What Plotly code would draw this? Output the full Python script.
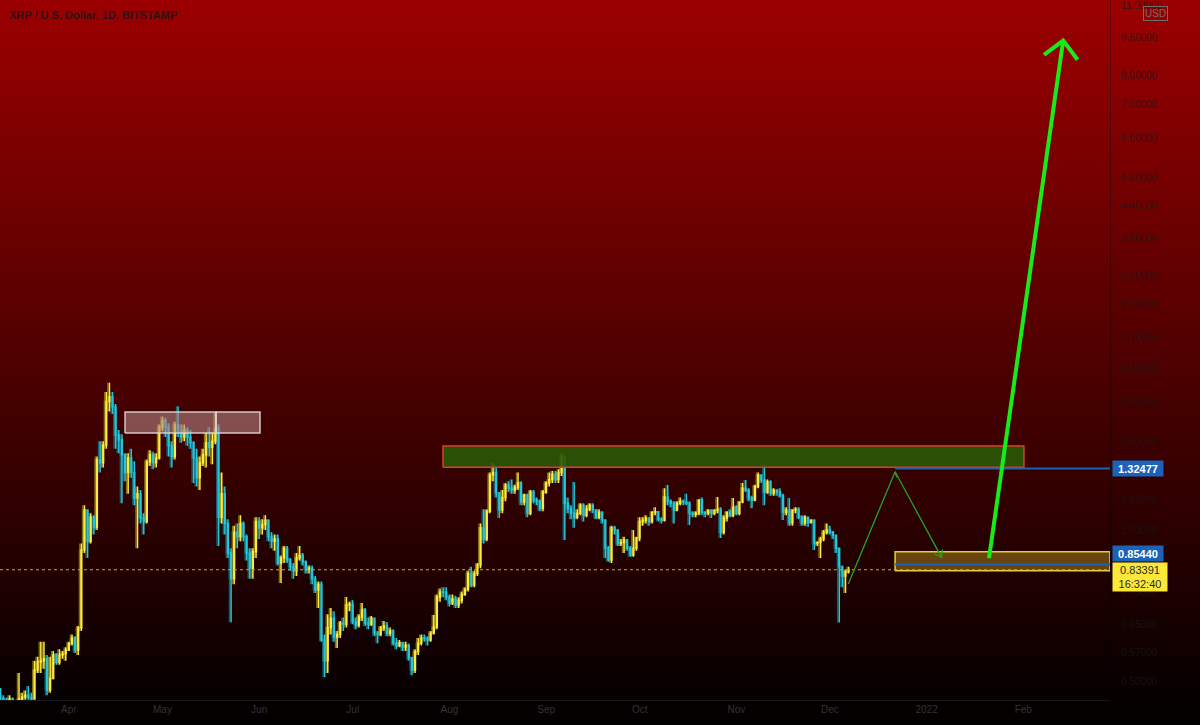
import math
import pandas as pd
import plotly.graph_objects as go

# --- XRP/USD daily candles, Bitstamp, 2021-03-10 .. 2021-12-07 ---
first_open = 0.484

close = [
    # Mar 10-31
    0.464, 0.460, 0.455, 0.462, 0.455, 0.450, 0.462, 0.466, 0.470, 0.465, 0.462,
    0.527, 0.547, 0.550, 0.555, 0.481, 0.508, 0.565, 0.546, 0.565, 0.568, 0.578,
    # Apr
    0.595, 0.610, 0.578, 0.639, 0.913, 1.096, 0.950, 1.060, 1.014, 1.377,
    1.360, 1.475, 1.800, 1.840, 1.755, 1.544, 1.510, 1.410, 1.300, 1.390,
    1.300, 1.157, 1.180, 1.056, 1.040, 1.365, 1.410, 1.360, 1.390, 1.600,
    # May
    1.650, 1.600, 1.470, 1.400, 1.616, 1.570, 1.530, 1.580, 1.530, 1.490,
    1.390, 1.270, 1.360, 1.410, 1.490, 1.460, 1.500, 1.590, 1.060, 1.180,
    1.030, 0.900, 0.800, 0.990, 0.970, 1.030, 0.970, 0.900, 0.840, 0.905, 1.040,
    # Jun
    1.010, 1.025, 1.045, 0.970, 0.950, 0.960, 0.860, 0.880, 0.920, 0.872,
    0.845, 0.830, 0.880, 0.890, 0.865, 0.835, 0.840, 0.800, 0.760, 0.780,
    0.605, 0.550, 0.640, 0.668, 0.613, 0.620, 0.654, 0.650, 0.710, 0.712,
    # Jul
    0.657, 0.648, 0.672, 0.694, 0.654, 0.650, 0.668, 0.624, 0.620, 0.639,
    0.645, 0.624, 0.630, 0.596, 0.590, 0.597, 0.586, 0.590, 0.557, 0.527,
    0.573, 0.596, 0.610, 0.608, 0.605, 0.624, 0.642, 0.736, 0.753, 0.752, 0.736,
    # Aug
    0.716, 0.730, 0.710, 0.725, 0.745, 0.762, 0.820, 0.778, 0.820, 0.852,
    1.010, 0.960, 1.090, 1.286, 1.300, 1.184, 1.096, 1.160, 1.228, 1.210,
    1.200, 1.215, 1.240, 1.137, 1.174, 1.080, 1.190, 1.147, 1.140, 1.105, 1.190,
    # Sep
    1.240, 1.260, 1.290, 1.260, 1.300, 1.396, 1.130, 1.105, 1.080, 1.060,
    1.080, 1.120, 1.070, 1.100, 1.120, 1.096, 1.060, 1.085, 1.047, 0.920,
    0.872, 1.010, 1.000, 0.940, 0.945, 0.955, 0.920, 0.892, 0.920, 0.964,
    # Oct
    1.040, 1.045, 1.056, 1.040, 1.085, 1.087, 1.050, 1.045, 1.163, 1.140,
    1.130, 1.096, 1.130, 1.140, 1.135, 1.130, 1.080, 1.075, 1.080, 1.147,
    1.085, 1.080, 1.095, 1.080, 1.095, 1.100, 0.990, 1.056, 1.085, 1.070, 1.110,
    # Nov
    1.080, 1.137, 1.210, 1.200, 1.157, 1.147, 1.220, 1.286, 1.257, 1.190,
    1.245, 1.184, 1.200, 1.190, 1.170, 1.085, 1.095, 1.032, 1.096, 1.100,
    1.060, 1.032, 1.060, 1.035, 1.045, 0.940, 0.945, 0.960, 0.990, 1.000,
    # Dec 1-7
    0.990, 0.975, 0.920, 0.845, 0.810, 0.826, 0.83391,
]

high = [
    0.485, 0.470, 0.465, 0.470, 0.465, 0.460, 0.520, 0.475, 0.480, 0.490, 0.475,
    0.550, 0.560, 0.600, 0.600, 0.565, 0.560, 0.575, 0.570, 0.580, 0.575, 0.585,
    0.600, 0.620, 0.615, 0.645, 0.940, 1.120, 1.100, 1.080, 1.070, 1.400,
    1.500, 1.500, 1.880, 1.960, 1.880, 1.780, 1.580, 1.550, 1.420, 1.420,
    1.450, 1.370, 1.220, 1.200, 1.080, 1.380, 1.440, 1.430, 1.420, 1.620,
    1.680, 1.670, 1.630, 1.500, 1.640, 1.760, 1.620, 1.620, 1.600, 1.580,
    1.500, 1.450, 1.400, 1.450, 1.560, 1.600, 1.560, 1.710, 1.620, 1.300,
    1.220, 1.050, 0.920, 1.020, 1.030, 1.070, 1.040, 0.980, 0.920, 0.920, 1.060,
    1.060, 1.050, 1.070, 1.050, 0.990, 0.980, 0.980, 0.890, 0.930, 0.930,
    0.880, 0.860, 0.900, 0.930, 0.900, 0.870, 0.850, 0.850, 0.810, 0.790,
    0.790, 0.620, 0.680, 0.700, 0.690, 0.630, 0.660, 0.670, 0.736, 0.720,
    0.725, 0.670, 0.680, 0.716, 0.700, 0.670, 0.675, 0.670, 0.630, 0.645,
    0.660, 0.657, 0.640, 0.635, 0.610, 0.605, 0.600, 0.600, 0.595, 0.560,
    0.580, 0.610, 0.620, 0.620, 0.615, 0.630, 0.678, 0.745, 0.765, 0.770, 0.770,
    0.745, 0.745, 0.740, 0.735, 0.755, 0.770, 0.830, 0.845, 0.830, 0.860,
    1.030, 1.100, 1.100, 1.300, 1.360, 1.340, 1.190, 1.200, 1.240, 1.250,
    1.260, 1.230, 1.300, 1.250, 1.180, 1.180, 1.200, 1.200, 1.160, 1.150, 1.200,
    1.250, 1.300, 1.310, 1.310, 1.320, 1.420, 1.410, 1.160, 1.120, 1.245,
    1.100, 1.130, 1.130, 1.120, 1.130, 1.130, 1.100, 1.100, 1.090, 1.050,
    0.930, 1.020, 1.020, 1.000, 0.960, 0.970, 0.960, 0.930, 1.000, 0.970,
    1.060, 1.060, 1.070, 1.060, 1.090, 1.110, 1.090, 1.060, 1.210, 1.228,
    1.150, 1.140, 1.140, 1.160, 1.150, 1.180, 1.140, 1.090, 1.090, 1.150,
    1.160, 1.090, 1.100, 1.100, 1.100, 1.163, 1.110, 1.070, 1.090, 1.100, 1.157,
    1.120, 1.140, 1.240, 1.257, 1.210, 1.170, 1.230, 1.300, 1.290, 1.346,
    1.260, 1.255, 1.210, 1.200, 1.210, 1.180, 1.110, 1.157, 1.100, 1.110,
    1.110, 1.070, 1.070, 1.060, 1.050, 1.050, 0.950, 0.970, 1.000, 1.030,
    1.020, 0.995, 0.980, 0.920, 0.850, 0.835, 0.845,
]

low = [
    0.455, 0.450, 0.445, 0.450, 0.448, 0.442, 0.450, 0.455, 0.460, 0.460, 0.455,
    0.460, 0.520, 0.520, 0.530, 0.470, 0.475, 0.505, 0.540, 0.540, 0.555, 0.550,
    0.575, 0.590, 0.570, 0.565, 0.630, 0.900, 0.880, 0.940, 0.980, 1.000,
    1.300, 1.330, 1.450, 1.720, 1.700, 1.450, 1.420, 1.130, 1.250, 1.180,
    1.270, 1.120, 0.920, 1.030, 0.980, 1.030, 1.340, 1.320, 1.330, 1.380,
    1.570, 1.530, 1.400, 1.330, 1.380, 1.530, 1.490, 1.500, 1.470, 1.450,
    1.240, 1.220, 1.200, 1.340, 1.330, 1.400, 1.350, 1.480, 0.930, 1.030,
    0.980, 0.880, 0.656, 0.780, 0.920, 0.950, 0.950, 0.870, 0.800, 0.800, 0.880,
    0.960, 0.980, 1.000, 0.950, 0.920, 0.910, 0.850, 0.785, 0.860, 0.860,
    0.830, 0.800, 0.810, 0.870, 0.850, 0.820, 0.820, 0.780, 0.750, 0.700,
    0.600, 0.510, 0.520, 0.620, 0.600, 0.583, 0.610, 0.630, 0.640, 0.690,
    0.650, 0.635, 0.640, 0.660, 0.645, 0.635, 0.645, 0.615, 0.596, 0.615,
    0.630, 0.615, 0.615, 0.590, 0.580, 0.585, 0.575, 0.575, 0.550, 0.515,
    0.520, 0.565, 0.590, 0.600, 0.590, 0.600, 0.620, 0.635, 0.720, 0.735, 0.725,
    0.705, 0.710, 0.700, 0.700, 0.715, 0.740, 0.755, 0.770, 0.770, 0.810,
    0.840, 0.940, 0.950, 1.080, 1.250, 1.160, 1.056, 1.080, 1.140, 1.190,
    1.180, 1.180, 1.200, 1.120, 1.120, 1.060, 1.070, 1.130, 1.120, 1.090, 1.090,
    1.180, 1.220, 1.240, 1.240, 1.240, 1.280, 0.955, 1.080, 1.050, 1.010,
    1.050, 1.070, 1.040, 1.060, 1.090, 1.080, 1.050, 1.050, 1.030, 0.880,
    0.865, 0.860, 0.980, 0.930, 0.930, 0.900, 0.910, 0.885, 0.885, 0.910,
    0.950, 1.020, 1.030, 1.020, 1.030, 1.070, 1.040, 1.030, 1.040, 1.120,
    1.110, 1.030, 1.090, 1.120, 1.120, 1.120, 1.023, 1.060, 1.060, 1.070,
    1.070, 1.060, 1.070, 1.056, 1.070, 1.080, 0.964, 0.980, 1.040, 1.060, 1.060,
    1.070, 1.070, 1.130, 1.190, 1.140, 1.105, 1.140, 1.210, 1.240, 1.120,
    1.180, 1.170, 1.170, 1.170, 1.160, 1.047, 1.070, 1.020, 1.020, 1.080,
    1.050, 1.020, 1.020, 1.015, 1.030, 0.913, 0.930, 0.880, 0.950, 0.980,
    0.980, 0.960, 0.900, 0.655, 0.770, 0.750, 0.820,
]

assert len(close) == len(high) == len(low)

month_ticks = ["2021-04-01", "2021-05-01", "2021-06-01", "2021-07-01", "2021-08-01", "2021-09-01",
               "2021-10-01", "2021-11-01", "2021-12-01", "2022-01-01", "2022-02-01", "2022-03-01"]
month_labels = ["Apr", "May", "Jun", "Jul", "Aug", "Sep", "Oct", "Nov", "Dec", "2022", "Feb", "Mar"]
price_ticks = [0.5, 0.57, 0.65, 0.75, 1.0, 1.15, 1.5, 1.8, 2.1, 2.4, 2.8, 3.2, 3.8, 4.4,
               5.0, 6.0, 7.0, 8.0, 9.5, 11.0]

last_price = 0.83391
level_hi = 1.32477
level_lo = 0.85440

dates = pd.date_range("2021-03-10", periods=len(close), freq="D")
opens = [first_open] + close[:-1]

# --- view / pixel helpers (plot area 1110 x 700) ---
D0 = pd.Timestamp("2021-04-01")
x_start = D0 + pd.Timedelta(days=-22.09)
x_end = D0 + pd.Timedelta(days=333.8)
y_lo, y_hi = 0.4597, 11.28
W, H = 1110, 700
LY0, LY1 = math.log10(y_lo), math.log10(y_hi)


def to_px(t, p):
    fx = (pd.Timestamp(t) - x_start) / (x_end - x_start)
    fy = (LY1 - math.log10(p)) / (LY1 - LY0)
    return fx * W, fy * H


def from_px(x, y):
    t = x_start + (x_end - x_start) * (x / W)
    p = 10 ** (LY1 - (y / H) * (LY1 - LY0))
    return t, p


def wings(tip, tail, size, spread):
    tx, ty = to_px(*tip)
    bx, by = to_px(*tail)
    ang = math.atan2(by - ty, bx - tx)
    out = []
    for s in (-spread, spread):
        a = ang + math.radians(s)
        out.append(from_px(tx + size * math.cos(a), ty + size * math.sin(a)))
    return out


def rect(x0, x1, y0, y1, fill, line, width=1.5):
    return go.Scatter(x=[x0, x1, x1, x0, x0], y=[y0, y0, y1, y1, y0], mode="lines",
                      fill="toself", fillcolor=fill, line=dict(color=line, width=width),
                      hoverinfo="skip", showlegend=False)


def hline(x0, x1, y, color, width=1.5, dash="solid"):
    return go.Scatter(x=[x0, x1], y=[y, y], mode="lines", line=dict(color=color, width=width, dash=dash),
                      hoverinfo="skip", showlegend=False)


fig = go.Figure()

# zones drawn on the chart
fig.add_trace(rect("2021-04-18 23:45", "2021-05-18 05:00", 1.558, 1.715, "rgba(180,130,130,0.6)", "rgba(225,215,215,0.9)"))
fig.add_trace(rect("2021-05-18 05:00", "2021-06-01 06:30", 1.558, 1.715, "rgba(180,130,130,0.6)", "rgba(225,215,215,0.9)"))
fig.add_trace(rect("2021-07-29 22:30", "2022-02-01 05:00", 1.332, 1.468, "rgba(42,88,5,0.9)", "#d6432b"))
fig.add_trace(rect("2021-12-21 21:30", x_end, 0.830, 0.9055, "rgba(160,125,25,0.55)", "#e8cf3a"))
fig.add_trace(hline("2021-12-21 21:30", x_end, level_hi, "#1f5fb5", 2))
fig.add_trace(hline("2021-12-21 21:30", x_end, level_lo, "#1f5fb5", 2))
fig.add_trace(hline(x_start, x_end, last_price, "#c9a838", 1.2, "dot"))

# soft shadow copy of the candles (the glow seen on the original)
fig.add_trace(go.Candlestick(
    x=dates - pd.Timedelta(hours=12), open=opens, high=high, low=low, close=close,
    increasing=dict(line=dict(color="#9a8a1a", width=1.4), fillcolor="#9a8a1a"),
    decreasing=dict(line=dict(color="#177a87", width=1.4), fillcolor="#177a87"),
    whiskerwidth=0, opacity=0.8, hoverinfo="skip", showlegend=False,
))
fig.add_trace(go.Candlestick(
    x=dates, open=opens, high=high, low=low, close=close,
    increasing=dict(line=dict(color="#FFEB3B", width=1.5), fillcolor="#FFEB3B"),
    decreasing=dict(line=dict(color="#26C6DA", width=1.5), fillcolor="#26C6DA"),
    whiskerwidth=0, hoverinfo="skip", showlegend=False,
))

# thin projected path
thin = [(pd.Timestamp("2021-12-06 21:30"), 0.781), (pd.Timestamp("2021-12-21 21:30"), 1.3055),
        (pd.Timestamp("2022-01-05 19:00"), 0.8826)]
tw = wings(thin[2], thin[1], 8, 35)
pw = wings(thin[1], thin[0], 6, 40)
fig.add_trace(go.Scatter(
    x=[p[0] for p in thin] + [None, tw[0][0], thin[2][0], tw[1][0], None, pw[0][0], thin[1][0]],
    y=[p[1] for p in thin] + [None, tw[0][1], thin[2][1], tw[1][1], None, pw[0][1], thin[1][1]],
    mode="lines", line=dict(color="#22a522", width=1.3), hoverinfo="skip", showlegend=False))

# thick target arrow
thick = [(pd.Timestamp("2022-01-21 00:00"), 0.8786), (pd.Timestamp("2022-02-13 19:00"), 9.37)]
kw = wings(thick[1], thick[0], 24, 45)
fig.add_trace(go.Scatter(
    x=[thick[0][0], thick[1][0], None, kw[0][0], thick[1][0], kw[1][0]],
    y=[thick[0][1], thick[1][1], None, kw[0][1], thick[1][1], kw[1][1]],
    mode="lines", line=dict(color="#18ec18", width=4), hoverinfo="skip", showlegend=False))

# red-to-black background gradient
shapes = []
step = 5
for i in range(0, 725, step):
    r = int(round(156 * (1 - (i + step / 2) / 725)))
    shapes.append(dict(type="rect", xref="paper", yref="paper", x0=0, x1=1200 / W,
                       y0=1 - (i + step) / H, y1=1 - i / H, fillcolor=f"rgb({r},0,0)",
                       line=dict(width=0), layer="below"))

annotations = [
    dict(text="<b>XRP / U.S. Dollar, 1D, BITSTAMP</b>", xref="paper", yref="paper",
         x=7 / W, y=1 - 15 / H, xanchor="left", yanchor="middle", showarrow=False,
         font=dict(family="Liberation Sans", size=11, color="rgba(25,20,30,0.85)")),
    dict(text="USD", xref="paper", yref="paper", x=1155 / W, y=1 - 13 / H,
         xanchor="center", yanchor="middle", showarrow=False,
         font=dict(family="Liberation Sans", size=10, color="#6e6e6e"),
         bordercolor="#6e6e6e", borderwidth=1, borderpad=1),
    dict(text=f"<b>{level_hi:.5f}</b>", xref="paper", yref="y", x=1112 / W, y=math.log10(level_hi),
         xanchor="left", yanchor="middle", showarrow=False, bgcolor="#1c62b9", width=48, height=13,
         font=dict(family="Liberation Sans", size=11, color="white")),
    dict(text=f"<b>{level_lo:.5f}</b>", xref="paper", yref="y", x=1112 / W, y=math.log10(level_lo),
         yshift=11, xanchor="left", yanchor="middle", showarrow=False, bgcolor="#1c62b9", width=48, height=13,
         font=dict(family="Liberation Sans", size=11, color="white")),
    dict(text=f"{last_price:.5f}<br>16:32:40", xref="paper", yref="y", x=1112 / W, y=math.log10(last_price),
         yshift=8, xanchor="left", yanchor="top", showarrow=False, bgcolor="#fbe83a", width=52, height=26,
         font=dict(family="Liberation Sans", size=11, color="#2b2b2b")),
]

fig.update_layout(
    width=1200, height=725,
    margin=dict(l=0, r=90, t=0, b=25),
    paper_bgcolor="#000000", plot_bgcolor="rgba(0,0,0,0)",
    showlegend=False, hovermode=False,
    shapes=shapes, annotations=annotations,
    xaxis=dict(type="date", range=[x_start, x_end], rangeslider=dict(visible=False),
               showgrid=False, zeroline=False, showline=True, linecolor="#161616",
               tickvals=month_ticks, ticktext=month_labels, ticks="",
               tickfont=dict(family="Liberation Sans", size=10, color="#333333")),
    yaxis=dict(type="log", side="right", range=[LY0, LY1], showgrid=False, zeroline=False,
               showline=True, linecolor="rgba(0,0,0,0.35)",
               tickvals=price_ticks, ticktext=[f"{v:.5f}" for v in price_ticks],
               ticks="outside", ticklen=8, tickcolor="rgba(0,0,0,0)",
               tickfont=dict(family="Liberation Sans", size=10, color="rgba(25,25,25,0.75)")),
)

fig.write_html("out.html", config={"displayModeBar": False},
               post_script="document.body.style.margin='0';document.body.style.overflow='hidden';")
